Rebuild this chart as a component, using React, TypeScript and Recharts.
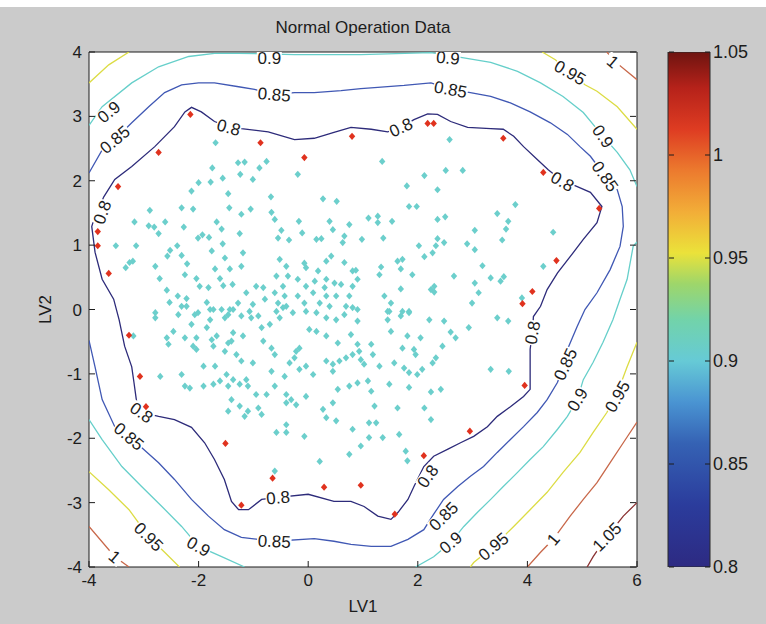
import React from 'react';
import { ComposedChart, BarChart, Bar, Scatter, XAxis, YAxis, CartesianGrid } from 'recharts';

const FONT = '"Liberation Sans", Arial, Helvetica, sans-serif';
const INK = '#1c1c1c';

const xTicks = [-4, -2, 0, 2, 4, 6];
const yTicks = [-4, -3, -2, -1, 0, 1, 2, 3, 4];
const barTicks = [0.8, 0.85, 0.9, 0.95, 1, 1.05];

// contour pieces that are visible inside the axes, [LV1, LV2]
const level080 = [
  [-3.91, 1.4], [-3.73, 1.75], [-3.53, 2.02], [-3.22, 2.22], [-2.8, 2.53], [-2.44, 2.84], [-2.25, 3.07], [-2.13, 3.14],
  [-1.95, 3.07], [-1.71, 2.92], [-1.45, 2.84], [-1.22, 2.81], [-0.73, 2.76], [-0.25, 2.64], [0.11, 2.66], [0.47, 2.75],
  [0.78, 2.83], [1.15, 2.8], [1.45, 2.76], [1.69, 2.83], [1.93, 2.95], [2.18, 3.04], [2.36, 3.03], [2.6, 2.92],
  [2.91, 2.83], [3.33, 2.81], [3.56, 2.8], [3.75, 2.69], [3.93, 2.53], [4.18, 2.33], [4.38, 2.17], [4.6, 2.02],
  [4.91, 1.91], [5.15, 1.82], [5.36, 1.6], [5.27, 1.35], [5.02, 1.09], [4.78, 0.82], [4.55, 0.57], [4.36, 0.31],
  [4.24, 0.05], [4.11, -0.11], [4.09, -0.36], [4.05, -0.62], [4.05, -0.89], [4.05, -1.24], [3.93, -1.35], [3.69, -1.51],
  [3.45, -1.66], [3.27, -1.82], [3.02, -1.97], [2.78, -2.07], [2.55, -2.17], [2.29, -2.28], [2.11, -2.44], [1.93, -2.75],
  [1.82, -2.95], [1.64, -3.15], [1.51, -3.26], [1.27, -3.21], [1.02, -3.06], [0.78, -2.98], [0.47, -2.98], [0.0, -2.87],
  [-0.55, -2.92], [-0.85, -2.95], [-1.09, -3.11], [-1.27, -3.11], [-1.4, -2.98], [-1.53, -2.64], [-1.71, -2.33], [-1.89, -2.07],
  [-2.13, -1.83], [-2.44, -1.71], [-2.73, -1.66], [-3.04, -1.6], [-3.13, -1.44], [-3.18, -1.13], [-3.22, -0.89], [-3.35, -0.57],
  [-3.45, -0.16], [-3.55, 0.16], [-3.76, 0.47], [-3.89, 0.89], [-3.95, 1.29], [-3.91, 1.4],
];
const level085 = [
  [-4.0, -0.48], [-3.89, -0.89], [-3.76, -1.4], [-3.53, -1.82], [-3.27, -1.97], [-2.73, -2.38], [-2.44, -2.64], [-2.13, -2.95],
  [-1.82, -3.21], [-1.53, -3.42], [-1.22, -3.54], [-0.62, -3.6], [0.11, -3.56], [0.47, -3.6], [0.78, -3.65], [1.15, -3.68],
  [1.51, -3.68], [1.82, -3.57], [2.11, -3.42], [2.29, -3.18], [2.47, -2.95], [2.73, -2.75], [2.96, -2.59], [3.2, -2.44],
  [3.45, -2.22], [3.69, -2.02], [3.93, -1.82], [4.18, -1.6], [4.36, -1.4], [4.55, -1.13], [4.65, -0.89], [4.73, -0.62],
  [4.91, -0.26], [5.05, 0.0], [5.27, 0.26], [5.51, 0.62], [5.69, 0.98], [5.75, 1.29], [5.73, 1.6], [5.64, 1.86],
  [5.42, 2.07], [5.15, 2.38], [4.96, 2.53], [4.73, 2.72], [4.42, 2.9], [4.05, 3.07], [3.69, 3.21], [3.33, 3.31],
  [2.96, 3.37], [2.6, 3.42], [2.24, 3.52], [1.75, 3.48], [1.27, 3.45], [0.96, 3.43], [0.6, 3.4], [0.11, 3.37],
  [-0.25, 3.37], [-0.62, 3.34], [-0.98, 3.42], [-1.27, 3.46], [-1.71, 3.52], [-2.0, 3.52], [-2.31, 3.49], [-2.62, 3.37],
  [-2.91, 3.15], [-3.22, 2.9], [-3.53, 2.64], [-3.76, 2.48], [-4.0, 2.12],
];
const level090Top = [
  [-4.0, 2.86], [-3.76, 3.15], [-3.22, 3.52], [-2.73, 3.77], [-2.18, 3.93], [-1.71, 3.98], [-1.27, 3.98], [-0.25, 3.96],
  [0.96, 3.96], [2.24, 3.99], [2.84, 3.91], [3.33, 3.84], [3.82, 3.7], [4.24, 3.52], [4.65, 3.31], [5.02, 3.06],
  [5.38, 2.69], [5.64, 2.44], [5.87, 2.17], [6.0, 1.91],
];
const level090Right = [
  [6.0, 1.05], [5.93, 0.98], [5.82, 0.47], [5.69, 0.16], [5.56, -0.16], [5.38, -0.51], [5.2, -0.82], [5.02, -1.09],
  [4.91, -1.4], [4.73, -1.66], [4.55, -1.86], [4.29, -2.13], [4.05, -2.33], [3.82, -2.53], [3.56, -2.75], [3.33, -2.95],
  [3.09, -3.15], [2.84, -3.37], [2.6, -3.62], [2.29, -3.84], [1.96, -4.0],
];
const level090Left = [
  [-4.0, -1.71], [-3.76, -2.02], [-3.4, -2.44], [-3.04, -2.75], [-2.67, -3.06], [-2.31, -3.37], [-2.0, -3.68], [-1.58, -3.84],
  [-1.16, -4.0],
];
const level095TopLeft = [[-4.0, 3.52], [-3.64, 3.8], [-3.27, 4.0]];
const level095TopRight = [
  [4.27, 4.0], [4.51, 3.88], [4.78, 3.68], [5.05, 3.49], [5.27, 3.39], [5.64, 3.15], [6.0, 2.8],
];
const level095Right = [
  [6.0, -0.51], [5.82, -0.89], [5.64, -1.3], [5.45, -1.6], [5.2, -1.91], [4.96, -2.22], [4.65, -2.53], [4.36, -2.84],
  [4.05, -3.11], [3.75, -3.37], [3.38, -3.68], [3.02, -3.93], [2.96, -4.0],
];
const level095Left = [[-4.0, -2.52], [-3.64, -2.8], [-3.27, -3.11], [-2.91, -3.53], [-2.62, -3.77], [-2.35, -4.0]];
const level100TopRight = [[5.45, 4.0], [5.6, 3.85], [6.0, 3.57]];
const level100Left = [[-4.0, -3.37], [-3.53, -3.84], [-3.27, -4.0]];
const level100Right = [
  [6.0, -1.75], [5.75, -2.07], [5.51, -2.38], [5.27, -2.69], [5.02, -2.95], [4.78, -3.21], [4.47, -3.57], [4.24, -3.77],
  [4.0, -4.0],
];
const level105Right = [[6.0, -3.0], [5.75, -3.21], [5.45, -3.53], [5.2, -3.84], [5.09, -4.0]];

// inline contour labels: LV1, LV2, text, rotation
const contourLabels: [number, number, string, number][] = [
  [-3.76, 1.51, '0.8', -70], [-1.45, 2.83, '0.8', 15], [1.69, 2.83, '0.8', -25], [4.64, 1.99, '0.8', 30],
  [4.09, -0.36, '0.8', -80], [2.18, -2.59, '0.8', -55], [-0.55, -2.92, '0.8', -5], [-3.04, -1.6, '0.8', 35],
  [-3.53, 2.64, '0.85', -40], [-0.62, 3.34, '0.85', 5], [2.6, 3.42, '0.85', 10], [5.42, 2.07, '0.85', 55],
  [4.69, -0.85, '0.85', -65], [2.47, -3.21, '0.85', -45], [-0.62, -3.6, '0.85', 3], [-3.27, -1.97, '0.85', 40],
  [-3.64, 3.07, '0.9', -40], [-0.71, 3.91, '0.9', 0], [2.55, 3.91, '0.9', 5], [5.38, 2.69, '0.9', 55],
  [4.91, -1.4, '0.9', -60], [2.6, -3.62, '0.9', -40], [-2.0, -3.68, '0.9', 30],
  [4.78, 3.68, '0.95', 30], [5.64, -1.35, '0.95', -60], [3.38, -3.68, '0.95', -40], [-2.91, -3.53, '0.95', 45],
  [5.56, 3.85, '1', 40], [4.47, -3.57, '1', -50], [-3.53, -3.84, '1', 40],
  [5.45, -3.53, '1.05', -45],
];

const normalPoints = [
  [-1.69, 2.59], [-1.75, 2.2], [-1.56, 2.04], [-1.78, 1.98], [-2.0, 1.97], [-2.13, 1.84], [-1.46, 1.8], [-2.31, 1.58],
  [-2.1, 1.56], [-2.89, 1.54], [-1.44, 1.58], [-3.17, 1.36], [-2.61, 1.36], [-2.91, 1.3], [-2.81, 1.28], [-1.67, 1.36],
  [-2.27, 1.28], [-1.58, 1.25], [-2.73, 1.18], [-1.93, 1.16], [-1.81, 1.12], [-2.01, 1.11], [-2.39, 0.99], [-3.51, 0.99],
  [-3.14, 0.99], [-2.52, 0.92], [-1.76, 0.91], [-1.56, 1.02], [-2.57, 0.83], [-2.31, 0.84], [-3.26, 0.73], [-3.2, 0.75],
  [-3.33, 0.65], [-2.79, 0.67], [-1.52, 0.8], [-2.21, 0.71], [-1.7, 0.63], [-2.25, 0.54], [-2.71, 0.48], [-2.04, 0.48],
  [-1.61, 0.48], [-1.55, 0.37], [-1.98, 0.36], [-1.82, 0.34], [-2.58, 0.3], [-2.38, 0.21], [-2.22, 0.17], [-2.53, 0.11],
  [-1.85, 0.11], [-2.31, 0.05], [-1.58, 0.0], [-2.79, -0.05], [-2.01, -0.05], [-1.79, 0.0],
  [-1.28, 2.28], [-1.16, 2.29], [-0.76, 2.3], [-0.89, 2.2], [-1.24, 2.1], [-1.01, 2.02], [-0.19, 2.1], [-0.68, 1.75],
  [0.27, 1.72], [0.52, 1.68], [-1.22, 1.48], [-1.05, 1.56], [-0.67, 1.51], [-0.61, 1.4], [-0.17, 1.37], [0.39, 1.37],
  [0.75, 1.32], [-0.11, 1.19], [0.45, 1.24], [-0.49, 1.23], [-1.25, 1.18], [-0.55, 1.11], [-0.35, 1.08], [0.66, 1.14],
  [0.15, 1.09], [0.24, 1.1], [0.63, 1.04], [-1.19, 0.88], [0.42, 0.83], [0.33, 0.75], [-0.52, 0.78], [-0.4, 0.67],
  [-0.07, 0.72], [-0.04, 0.65], [-1.22, 0.67], [-1.43, 0.63], [0.18, 0.6], [0.66, 0.73], [0.81, 0.6], [-0.58, 0.52],
  [-0.37, 0.52], [-0.19, 0.47], [0.12, 0.44], [0.33, 0.47], [0.48, 0.41], [0.6, 0.39], [-0.95, 0.36], [-0.82, 0.34],
  [-1.38, 0.39], [-0.46, 0.36], [-0.04, 0.36], [0.3, 0.34], [0.81, 0.36], [-1.13, 0.26], [-0.61, 0.26], [-0.43, 0.21],
  [-0.19, 0.21], [0.09, 0.26], [0.33, 0.21], [0.51, 0.21], [0.75, 0.21], [-1.28, 0.1], [-1.01, 0.08], [-0.79, 0.16],
  [-0.55, 0.1], [-0.4, 0.05], [-0.07, 0.1], [0.21, 0.1], [0.39, 0.05], [0.69, 0.05], [-0.58, -0.03], [-0.04, -0.03],
  [-1.07, -0.03], [0.9, 0.0], [-1.43, 0.0],
  [2.58, 2.64], [1.35, 2.3], [2.12, 2.08], [2.51, 2.16], [2.82, 2.16], [1.8, 1.92], [2.36, 1.86], [1.84, 1.6],
  [1.98, 1.6], [1.1, 1.42], [1.27, 1.45], [1.27, 1.35], [1.53, 1.37], [2.36, 1.4], [2.5, 1.44], [3.78, 1.63],
  [3.45, 1.49], [3.65, 1.37], [3.61, 1.25], [3.04, 1.23], [0.98, 1.09], [1.37, 1.11], [2.02, 0.99], [2.36, 1.1],
  [2.33, 0.99], [2.48, 1.04], [2.9, 1.02], [3.04, 0.93], [3.54, 1.08], [2.12, 0.82], [2.27, 0.88], [1.63, 0.75],
  [1.72, 0.78], [1.33, 0.66], [1.69, 0.63], [1.3, 0.54], [1.9, 0.54], [0.87, 0.61], [0.9, 0.47], [2.66, 0.52],
  [3.18, 0.68], [3.33, 0.49], [3.57, 0.51], [3.51, 0.44], [3.04, 0.41], [2.3, 0.36], [2.24, 0.31], [2.3, 0.27],
  [1.69, 0.32], [1.39, 0.21], [1.51, 0.1], [3.11, 0.26], [2.99, 0.1], [3.9, 0.18], [1.48, -0.03], [1.72, -0.03],
  [1.84, -0.03], [4.47, 1.2], [4.29, 0.67],
  [-2.79, -0.13], [-2.37, -0.08], [-2.22, 0.05], [-2.07, -0.08], [-1.73, 0.0], [-1.52, -0.13], [-1.79, -0.16], [-1.46, -0.08],
  [-2.13, -0.23], [-1.85, -0.28], [-2.46, -0.34], [-2.58, -0.44], [-2.25, -0.44], [-2.04, -0.44], [-1.76, -0.47], [-1.67, -0.41],
  [-2.55, -0.54], [-2.1, -0.57], [-2.04, -0.62], [-1.73, -0.57], [-1.52, -0.65], [-1.46, -0.52], [-1.91, -0.88], [-1.7, -0.88],
  [-1.49, -1.01], [-2.7, -1.04], [-2.31, -1.01], [-2.25, -1.19], [-2.16, -1.22], [-1.91, -1.19], [-1.73, -1.16], [-1.61, -1.11],
  [-1.46, -1.19], [-1.46, -1.58], [-3.19, -0.41],
  [-1.37, 0.0], [-1.22, -0.1], [-0.91, -0.1], [-1.04, -0.13], [-0.85, -0.28], [-0.7, -0.23], [-0.52, -0.13], [-0.46, 0.03],
  [-0.28, -0.05], [0.15, -0.05], [0.33, -0.13], [0.51, -0.16], [0.66, -0.08], [0.81, 0.03], [0.9, -0.18], [0.02, -0.31],
  [0.15, -0.34], [0.33, -0.41], [-1.37, -0.36], [-1.19, -0.41], [-1.4, -0.49], [-0.82, -0.49], [-0.67, -0.6], [-0.61, -0.7],
  [-1.31, -0.7], [-1.22, -0.8], [-1.01, -0.83], [-0.34, -0.83], [-0.22, -0.65], [-0.25, -0.75], [-0.16, -0.6], [-0.04, -0.88],
  [-0.16, -0.93], [0.09, -1.01], [-0.43, -1.04], [-0.67, -0.96], [0.33, -0.8], [0.45, -0.85], [0.45, -0.96], [0.57, -0.8],
  [0.69, -0.75], [0.81, -0.7], [0.9, -0.54], [0.78, -0.39], [0.54, -0.52], [-1.37, -1.09], [-1.25, -1.16], [-1.13, -1.09],
  [-1.1, -1.19], [-0.95, -1.32], [-0.76, -1.32], [-0.61, -1.19], [-0.4, -1.32], [-0.31, -1.4], [-0.4, -1.45], [-0.22, -1.48],
  [-0.04, -1.35], [0.54, -1.24], [0.75, -1.19], [0.9, -1.14], [-1.4, -1.4], [-1.25, -1.5], [-1.1, -1.58], [-0.91, -1.53],
  [-0.85, -1.63], [-1.16, -1.66], [0.27, -1.55], [0.45, -1.45], [0.33, -1.68], [0.51, -1.73], [-0.4, -1.79], [-0.58, -1.91],
  [-0.4, -1.91], [-0.07, -1.97], [0.81, -1.86], [0.75, -2.25], [0.21, -2.36], [-0.61, -2.51],
  [1.45, -0.03], [1.69, -0.1], [1.84, -0.05], [1.45, -0.16], [2.21, -0.16], [2.48, -0.18], [2.93, -0.28], [3.45, -0.13],
  [3.65, -0.18], [1.51, -0.34], [1.81, -0.41], [2.05, -0.44], [2.6, -0.35], [2.69, -0.44], [2.45, -0.57], [1.15, -0.54],
  [0.93, -0.65], [1.18, -0.7], [0.96, -0.78], [1.02, -0.85], [1.3, -0.88], [1.72, -0.6], [1.93, -0.62], [1.96, -0.7],
  [2.33, -0.75], [2.27, -0.83], [1.57, -0.83], [1.75, -0.91], [1.84, -0.98], [1.99, -1.01], [2.08, -0.93], [1.09, -1.11],
  [1.48, -1.16], [1.15, -1.27], [1.84, -1.21], [2.24, -1.28], [2.42, -1.24], [3.33, -0.93], [3.66, -0.96], [1.21, -1.5],
  [1.63, -1.53], [2.12, -1.53], [2.24, -1.71], [1.11, -1.76], [1.24, -1.76], [1.66, -1.94], [1.36, -1.99], [1.11, -1.99],
  [0.96, -2.12], [1.78, -2.2], [1.81, -2.35],
];

const boundaryPoints = [
  [-2.15, 3.03], [-2.73, 2.44], [-3.47, 1.91], [-3.84, 1.21], [-3.84, 0.99], [-3.64, 0.56], [-0.87, 2.59], [-0.07, 2.36],
  [0.8, 2.69], [2.18, 2.89], [2.29, 2.89], [3.56, 2.66], [4.29, 2.13], [5.31, 1.57], [4.53, 0.76], [4.09, 0.28],
  [3.91, 0.09], [3.95, -1.18], [2.95, -1.89], [2.11, -2.27], [0.96, -2.73], [1.58, -3.18], [-3.27, -0.4], [-3.07, -1.04],
  [-2.96, -1.51], [-1.51, -2.08], [-0.65, -2.62], [-1.22, -3.04], [0.29, -2.76],
];

const toXY = (pts: number[][]) => pts.map(([x, y]) => ({ x, y }));

const contours = [
  { key: 'c080', color: '#2d2b7a', data: level080 },
  { key: 'c085', color: '#4058b4', data: level085 },
  { key: 'c090a', color: '#66cfca', data: level090Top },
  { key: 'c090b', color: '#66cfca', data: level090Right },
  { key: 'c090c', color: '#66cfca', data: level090Left },
  { key: 'c095a', color: '#dcdc44', data: level095TopLeft },
  { key: 'c095b', color: '#dcdc44', data: level095TopRight },
  { key: 'c095c', color: '#dcdc44', data: level095Right },
  { key: 'c095d', color: '#dcdc44', data: level095Left },
  { key: 'c100a', color: '#c8684a', data: level100TopRight },
  { key: 'c100b', color: '#c8684a', data: level100Left },
  { key: 'c100c', color: '#c8684a', data: level100Right },
  { key: 'c105', color: '#8a3232', data: level105Right },
];

const labelData = contourLabels.map(([x, y, t, a]) => ({ x, y, t, a }));
const colorbarData = [{ name: 'scale', top: barTicks[barTicks.length - 1] }];

const NoMark = () => <g />;

const marker = (fill: string) => (p: any) => {
  const { cx, cy } = p;
  if (cx == null || cy == null) return <g />;
  return <path d={`M${cx},${cy - 3.6}L${cx + 3.2},${cy}L${cx},${cy + 3.6}L${cx - 3.2},${cy}Z`} fill={fill} />;
};

const LabelMark = (p: any) => {
  const { cx, cy, payload } = p;
  if (cx == null || cy == null) return <g />;
  const t: string = payload.t;
  const w = t.replace('.', '').length * 9.5 + 6;
  return (
    <g transform={`translate(${cx},${cy}) rotate(${payload.a})`}>
      <rect x={-w / 2} y={-7} width={w} height={14} fill="#fff" />
      <text textAnchor="middle" y={6} fontSize={17} fontFamily={FONT} fill={INK}>{t}</text>
    </g>
  );
};

const BottomTick = (p: any) => {
  const { x, y, payload } = p;
  const ay = y - 7;
  return (
    <g>
      <line x1={x} x2={x} y1={ay} y2={ay - 6} stroke={INK} />
      <text x={x} y={y + 12} textAnchor="middle" fontSize={17} fontFamily={FONT} fill={INK}>{payload.value}</text>
    </g>
  );
};

const LeftTick = (p: any) => {
  const { x, y, payload } = p;
  const ax = x + 7;
  return (
    <g>
      <line x1={ax} x2={ax + 6} y1={y} y2={y} stroke={INK} />
      <text x={x} y={y + 6} textAnchor="end" fontSize={17} fontFamily={FONT} fill={INK}>{payload.value}</text>
    </g>
  );
};

// axes one pixel deep: ticks drawn inward from the box edge
const TopTick = (p: any) => <line x1={p.x} x2={p.x} y1={p.y + 1} y2={p.y + 7} stroke={INK} />;
const RightTick = (p: any) => <line x1={p.x - 1} x2={p.x - 7} y1={p.y} y2={p.y} stroke={INK} />;

const BarTick = (p: any) => {
  const { x, y, payload } = p;
  const ax = x - 3;
  return (
    <g>
      <line x1={ax} x2={ax - 5} y1={y} y2={y} stroke={INK} />
      <text x={x} y={y + 6} textAnchor="start" fontSize={18} fontFamily={FONT} fill={INK}>{payload.value}</text>
    </g>
  );
};
const BarLeftTick = (p: any) => <line x1={p.x + 1} x2={p.x + 6} y1={p.y} y2={p.y} stroke={INK} />;

export default function App() {
  return (
    <div style={{ position: 'fixed', left: 0, top: 0, width: 766, height: 624, background: '#fff' }}>
      <div style={{ position: 'absolute', left: 0, top: 7, width: 766, height: 617, background: '#cbcbcb' }} />
      <div
        style={{
          position: 'absolute', left: 89, top: 18, width: 548, textAlign: 'center',
          fontFamily: FONT, fontSize: 17, color: INK, lineHeight: '20px',
        }}
      >
        Normal Operation Data
      </div>

      <ComposedChart
        width={766}
        height={624}
        margin={{ top: 51, right: 128, bottom: 7, left: 29 }}
        style={{ position: 'absolute', left: 0, top: 0 }}
      >
        <CartesianGrid horizontal={false} vertical={false} fill="#fff" />
        {contours.map((c) => (
          <Scatter
            key={c.key}
            data={toXY(c.data)}
            line={{ stroke: c.color, strokeWidth: 1.3 }}
            shape={NoMark}
            isAnimationActive={false}
          />
        ))}
        <Scatter data={labelData} shape={LabelMark} isAnimationActive={false} />
        <Scatter data={toXY(normalPoints)} shape={marker('#6ccfcc')} isAnimationActive={false} />
        <Scatter data={toXY(boundaryPoints)} shape={marker('#e0321e')} isAnimationActive={false} />
        <XAxis
          type="number"
          dataKey="x"
          domain={[-4, 6]}
          ticks={xTicks}
          allowDataOverflow
          height={50}
          tickSize={0}
          tickMargin={7}
          tickLine={false}
          tick={BottomTick}
          axisLine={{ stroke: INK }}
          label={{ value: 'LV1', position: 'insideBottom', offset: 5, fontSize: 17, fill: INK, fontFamily: FONT }}
        />
        <YAxis
          type="number"
          dataKey="y"
          domain={[-4, 4]}
          ticks={yTicks}
          allowDataOverflow
          width={60}
          tickSize={0}
          tickMargin={7}
          tickLine={false}
          tick={LeftTick}
          axisLine={{ stroke: INK }}
          label={{
            value: 'LV2', angle: -90, position: 'insideLeft', offset: 16, fontSize: 17, fill: INK,
            fontFamily: FONT, style: { textAnchor: 'middle' },
          }}
        />
        <XAxis
          xAxisId="top"
          orientation="top"
          type="number"
          domain={[-4, 6]}
          ticks={xTicks}
          allowDataOverflow
          height={1}
          tickSize={0}
          tickMargin={0}
          tickLine={false}
          tick={TopTick}
          axisLine={{ stroke: INK }}
        />
        <YAxis
          yAxisId="right"
          orientation="right"
          type="number"
          domain={[-4, 4]}
          ticks={yTicks}
          allowDataOverflow
          width={1}
          tickSize={0}
          tickMargin={0}
          tickLine={false}
          tick={RightTick}
          axisLine={{ stroke: INK }}
        />
      </ComposedChart>

      <BarChart
        width={766}
        height={624}
        data={colorbarData}
        margin={{ top: 52, right: 6, bottom: 57, left: 667 }}
        barCategoryGap={0}
        style={{ position: 'absolute', left: 0, top: 0 }}
      >
        <defs>
          <linearGradient id="jet" x1="0" y1="1" x2="0" y2="0">
            <stop offset="0%" stopColor="#2d2a82" />
            <stop offset="12%" stopColor="#2b3c9c" />
            <stop offset="24%" stopColor="#3562b4" />
            <stop offset="32%" stopColor="#4a94d2" />
            <stop offset="40%" stopColor="#66cad6" />
            <stop offset="48%" stopColor="#72d3aa" />
            <stop offset="55%" stopColor="#9ed66a" />
            <stop offset="61%" stopColor="#ebe23a" />
            <stop offset="69%" stopColor="#f2ad38" />
            <stop offset="77%" stopColor="#ec7a2e" />
            <stop offset="85%" stopColor="#de3c22" />
            <stop offset="93%" stopColor="#b6221a" />
            <stop offset="100%" stopColor="#6e1410" />
          </linearGradient>
        </defs>
        <XAxis dataKey="name" hide />
        <YAxis
          yAxisId="cb"
          orientation="right"
          type="number"
          domain={[0.8, 1.05]}
          ticks={barTicks}
          allowDataOverflow
          width={50}
          tickSize={0}
          tickMargin={3}
          tickLine={false}
          axisLine={false}
          tick={BarTick}
        />
        <YAxis
          yAxisId="cbl"
          orientation="left"
          type="number"
          domain={[0.8, 1.05]}
          ticks={barTicks}
          allowDataOverflow
          width={1}
          tickSize={0}
          tickMargin={0}
          tickLine={false}
          axisLine={false}
          tick={BarLeftTick}
        />
        <Bar yAxisId="cb" dataKey="top" fill="url(#jet)" stroke="#2a2a2a" isAnimationActive={false} />
      </BarChart>
    </div>
  );
}
